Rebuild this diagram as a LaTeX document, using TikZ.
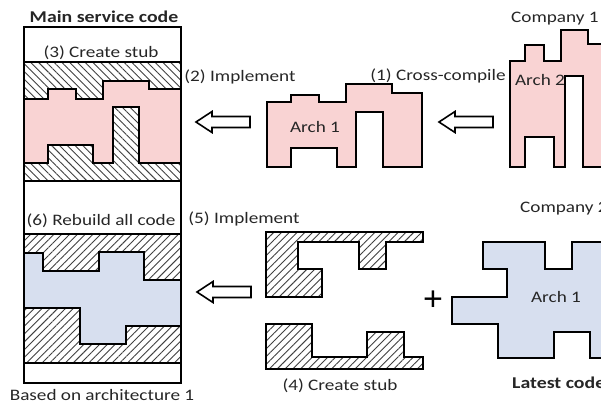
\documentclass[tikz,border=0pt]{standalone}
\usepackage{fontspec}
\setmainfont{Carlito}[FakeStretch=1.2]
\newfontfamily\plusfont{Liberation Sans}
\usetikzlibrary{patterns.meta}
\definecolor{archpink}{HTML}{F9D3D3}
\definecolor{archblue}{HTML}{D7DFEF}
\definecolor{ink}{HTML}{262626}

\begin{document}
\begin{tikzpicture}[x=1pt,y=-1pt,
  lbl/.style={font=\fontsize{16}{18}\selectfont, text=ink, inner sep=0pt, anchor=base},
  ttl/.style={lbl, font=\fontsize{16.5}{18}\selectfont\bfseries},
  outline/.style={draw=black, line width=2pt, line join=miter},
  hatchA/.style={pattern={Lines[angle=-45,distance=5.5pt,line width=0.9pt]}, pattern color=black!75},
  hatchB/.style={pattern={Lines[angle=45,distance=5.5pt,line width=0.9pt]}, pattern color=black!75},
  blockarrow/.style={draw=black, line width=1.6pt, fill=white, line join=miter},
  hollowarrow/.pic={\draw[blockarrow] (0,0) -- (16,-10.5) -- (16,-5.5) -- (54,-5.5) -- (54,5.5) -- (16,5.5) -- (16,10.5) -- cycle;}
]
\useasboundingbox (0,0) rectangle (601,405);
\clip (0,0) rectangle (601,405);

% ---------- main service code column ----------
\path[hatchA] (24,62) rectangle (181,181);
\path[hatchB] (24,234) rectangle (181,363);
\draw[outline, fill=archpink]
  (24,99) -- (48,99) -- (48,89) -- (76,89) -- (76,99) -- (103,99) -- (103,81)
  -- (149,81) -- (149,89) -- (181,89) -- (181,163) -- (139,163) -- (139,107)
  -- (113,107) -- (113,163) -- (93,163) -- (93,145) -- (48,145) -- (48,163)
  -- (24,163) -- cycle;
\draw[outline, fill=archblue]
  (24,253) -- (43,253) -- (43,271) -- (99,271) -- (99,252) -- (144,252)
  -- (144,280) -- (181,280) -- (181,326) -- (126,326) -- (126,344) -- (80,344)
  -- (80,308) -- (24,308) -- cycle;
\draw[line width=2pt] (24,27) rectangle (181,383);
\draw[line width=2pt] (24,62) -- (181,62) (24,181) -- (181,181)
  (24,234) -- (181,234) (24,363) -- (181,363);

\node[ttl] (title) at (104,22) {Main service code};
\node[lbl] (stubA) at (101,57) {(3) Create stub};
\node[lbl] (rebuild) at (101,225) {(6) Rebuild all code};
\node[lbl] (basis) at (102,400) {Based on architecture 1};

% ---------- cross-compiled code (architecture 1) ----------
\draw[outline, fill=archpink]
  (267,102) -- (291,102) -- (291,95) -- (319,95) -- (319,102) -- (346,102)
  -- (346,84) -- (392,84) -- (392,93) -- (422,93) -- (422,167) -- (383,167)
  -- (383,112) -- (356,112) -- (356,167) -- (337,167) -- (337,148) -- (291,148)
  -- (291,167) -- (267,167) -- cycle;
\node[lbl] (archA) at (315,132) {Arch 1};
\node[lbl] (implA) at (240,81) {(2) Implement};
\node[lbl] (cross) at (438,80) {(1) Cross-compile};

% ---------- company 1 code (architecture 2) ----------
\draw[outline, fill=archpink]
  (510,61) -- (525,61) -- (525,45) -- (544,45) -- (544,61) -- (561,61)
  -- (561,30) -- (588,30) -- (588,44) -- (640,44) -- (640,167) -- (583,167)
  -- (583,76) -- (565,76) -- (565,167) -- (554,167) -- (554,137) -- (525,137)
  -- (525,167) -- (510,167) -- cycle;
\node[lbl] (archB) at (540,85) {Arch 2};
\node[lbl, anchor=base west] (compA) at (511,22) {Company 1};

% ---------- stubs ----------
\draw[outline, line width=1.8pt, hatchB]
  (266,232) -- (423,232) -- (423,242) -- (386,242) -- (386,269) -- (359,269)
  -- (359,242) -- (298,242) -- (298,269) -- (322,269) -- (322,297) -- (266,297)
  -- cycle;
\draw[outline, line width=1.8pt, hatchB]
  (266,324) -- (312,324) -- (312,357) -- (367,357) -- (367,332) -- (404,332)
  -- (404,357) -- (423,357) -- (423,369) -- (266,369) -- cycle;
\node[lbl] (implB) at (244,223) {(5) Implement};
\node[lbl] (stubB) at (340,390) {(4) Create stub};

% ---------- company 2 latest code (architecture 1) ----------
\draw[outline, fill=archblue]
  (452,297) -- (507,297) -- (507,269) -- (483,269) -- (483,242) -- (545,242)
  -- (545,269) -- (572,269) -- (572,242) -- (640,242) -- (640,358) -- (590,358)
  -- (590,332) -- (554,332) -- (554,358) -- (498,358) -- (498,324) -- (452,324)
  -- cycle;
\node[lbl] (archC) at (556,302) {Arch 1};
\node[lbl, anchor=base west] (compB) at (520,212) {Company 2};
\node[ttl, anchor=base west] (latest) at (512,388) {Latest code};
\node[inner sep=0pt, font=\plusfont\fontsize{34}{34}\selectfont] (plus) at (433,301) {+};

% ---------- block arrows ----------
\coordinate (arrowA) at (196,122);
\coordinate (arrowB) at (439,122);
\coordinate (arrowC) at (197,292);
\pic at (arrowA) {hollowarrow};
\pic at (arrowB) {hollowarrow};
\pic at (arrowC) {hollowarrow};
\end{tikzpicture}
\end{document}
